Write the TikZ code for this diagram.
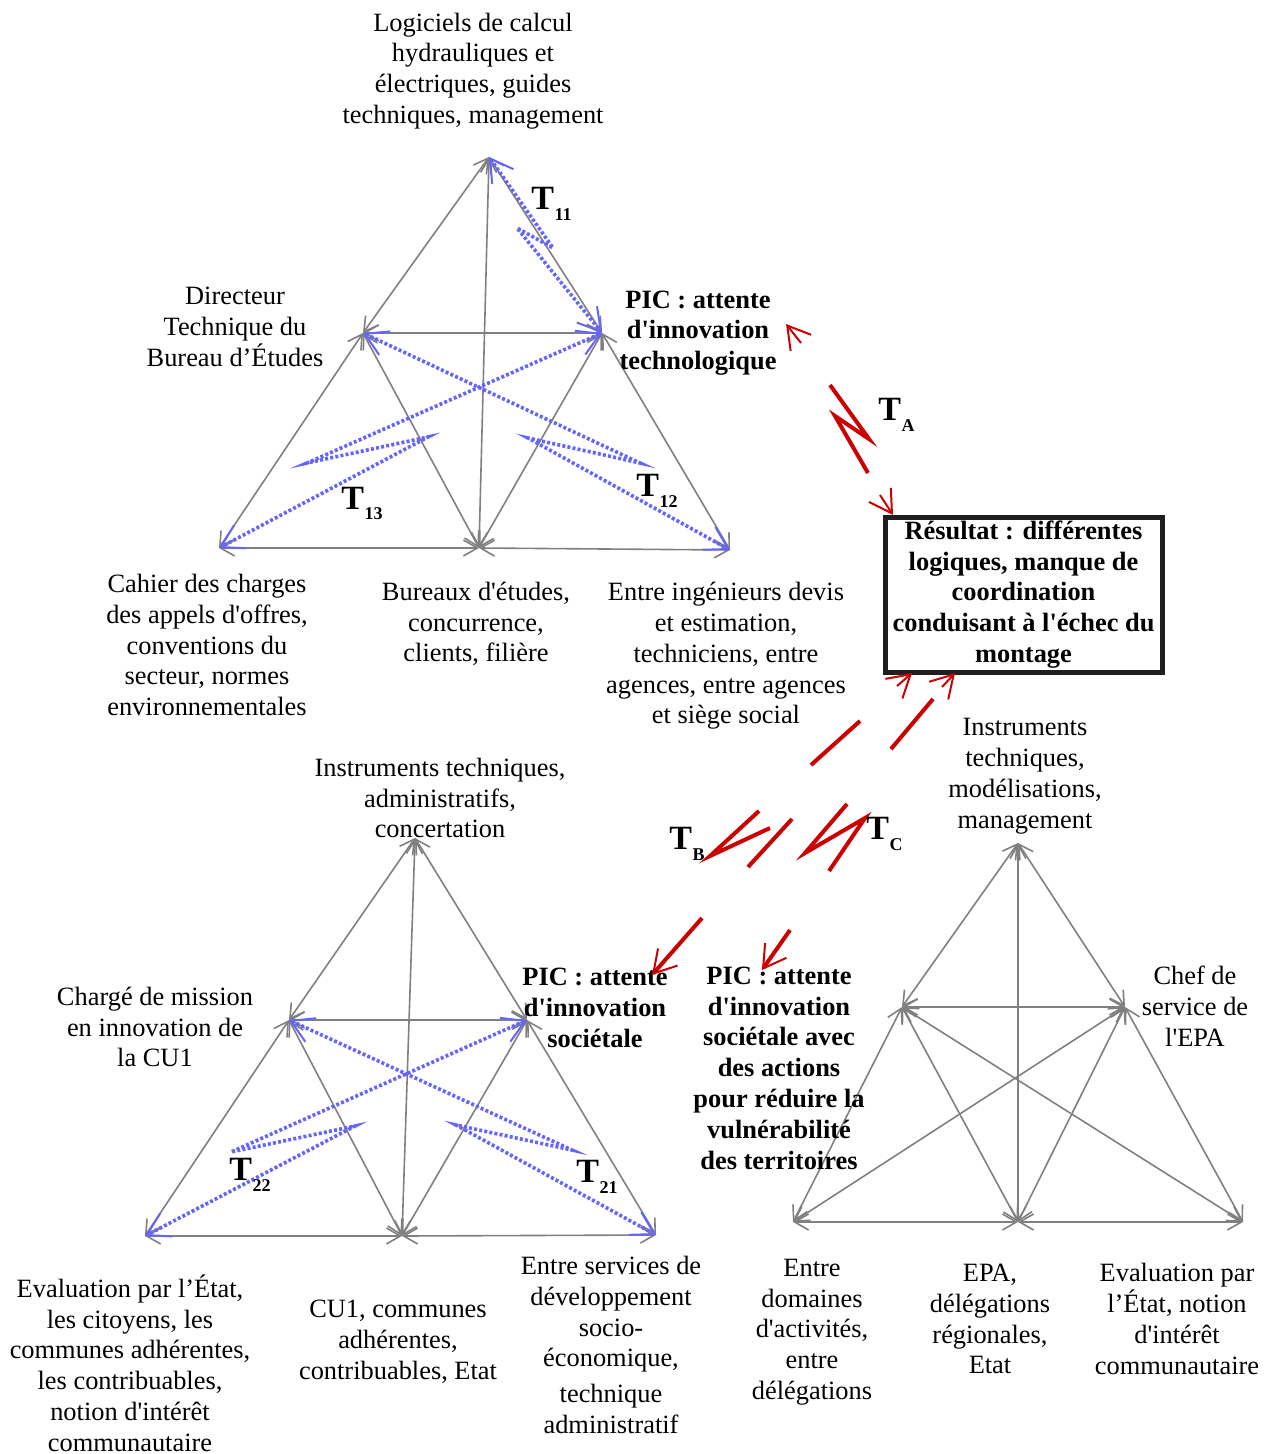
\documentclass[tikz,border=0pt]{standalone}
\usepackage{fontspec}
\newfontfamily\lserif{Liberation Serif}
\usetikzlibrary{arrows.meta}
\definecolor{linkgray}{RGB}{128,128,128}
\definecolor{transblue}{RGB}{100,100,255}
\definecolor{boltred}{RGB}{204,0,0}
\newcommand{\tsub}[1]{{\fontsize{17}{17}\selectfont T}\hspace{0.3pt}\raisebox{-5.5pt}{\fontsize{9}{9}\selectfont #1}}

\begin{document}
\begin{tikzpicture}[x=0.5pt, y=-0.5pt,
	lbl/.style={align=center, inner sep=0pt, font=\lserif\fontsize{13.2}{15.4}\selectfont},
	piclbl/.style={lbl, font=\lserif\bfseries\fontsize{13.2}{15.4}\selectfont},
	tname/.style={anchor=base west, inner sep=0pt, font=\lserif\bfseries},
	link/.style={draw=linkgray, line width=0.8pt,
		{Straight Barb[length=7pt,width=8pt]}-{Straight Barb[length=7pt,width=8pt]}},
	trans/.style={draw=transblue, line width=1.8pt, dash pattern=on 1.5pt off 1.1pt,
		{Straight Barb[length=11pt,width=13pt,line width=1pt]}-{Straight Barb[length=11pt,width=13pt,line width=1pt]}},
	bolt/.style={draw=boltred, line width=2pt},
	bolthead/.style={draw=boltred, line width=1pt, -{Straight Barb[length=11pt,width=13pt]}},
	result/.style={rectangle, draw=black!88, line width=2.5pt, minimum width=138.5pt,
		minimum height=77.5pt, inner sep=0pt, align=center,
		font=\lserif\bfseries\fontsize{13.2}{15.4}\selectfont}
	]
	\useasboundingbox (0,0) rectangle (1264,1454);
	
	% triangle 1
	\coordinate (A1) at (489,157);
	\coordinate (L1) at (363,333);
	\coordinate (R1) at (602,333);
	\coordinate (B1) at (219,548);
	\coordinate (M1) at (479,548);
	\coordinate (C1) at (730,550);
	% triangle 2
	\coordinate (A2) at (415,838);
	\coordinate (L2) at (289,1020);
	\coordinate (R2) at (527,1020);
	\coordinate (B2) at (145,1236);
	\coordinate (M2) at (402,1236);
	\coordinate (C2) at (656,1235);
	% triangle 3
	\coordinate (A3) at (1018,843);
	\coordinate (L3) at (902,1007);
	\coordinate (R3) at (1125,1007);
	\coordinate (B3) at (793,1222);
	\coordinate (M3) at (1018,1222);
	\coordinate (C3) at (1243,1222);
	
	\foreach \i in {1,2,3}{
		\foreach \a/\b in {A/L, A/R, A/M, L/R, L/B, L/M, R/M, R/C, B/M, M/C}
			\draw[link] (\a\i) -- (\b\i);
	}
	\draw[link] (L3) -- (C3);
	\draw[link] (R3) -- (B3);
	
	% transactions inside the triangles
	\draw[trans] (A1) -- (553,248) -- (517,228) -- (R1);
	\draw[trans] (L1) -- (640,463) -- (528,438) -- (C1);
	\draw[trans] (R1) -- (307,463) -- (428,437) -- (B1);
	\draw[trans] (L2) -- (572,1150) -- (456,1125) -- (C2);
	\draw[trans] (R2) -- (231,1152) -- (355,1126) -- (B2);
	
	\node[tname] (T11) at (531,210) {\tsub{11}};
	\node[tname] (T12) at (636,496) {\tsub{12}};
	\node[tname] (T13) at (341,509) {\tsub{13}};
	\node[tname] (T22) at (229,1180) {\tsub{22}};
	\node[tname] (T21) at (576,1182) {\tsub{21}};
	
	% labels, triangle 1
	\node[lbl] (Outil1) at (473,71) {Logiciels de calcul\\hydrauliques et\\électriques, guides\\techniques, management};
	\node[lbl] (Sujet1) at (235,327) {Directeur\\Technique du\\Bureau d’Études};
	\node[piclbl] (Pic1) at (698,333) {PIC : attente\\d'innovation\\technologique};
	\node[lbl] (Regles1) at (207,645) {Cahier des charges\\des appels d'offres,\\conventions du\\secteur, normes\\environnementales};
	\node[lbl] (Comm1) at (476,624) {Bureaux d'études,\\concurrence,\\clients, filière};
	\node[lbl] (Div1) at (726,656) {Entre ingénieurs devis\\et estimation,\\techniciens, entre\\agences, entre agences\\et siège social};
	
	% labels, triangle 2
	\node[lbl] (Outil2) at (440,798) {Instruments techniques,\\administratifs,\\concertation};
	\node[lbl] (Sujet2) at (155,1027) {Chargé de mission\\en innovation de\\la CU1};
	\node[piclbl] (Pic2) at (595,1008) {PIC : attente\\d'innovation\\sociétale};
	\node[lbl] (Regles2) at (130,1363) {Evaluation par l’État,\\les citoyens, les\\communes adhérentes,\\les contribuables,\\notion d'intérêt\\communautaire};
	\node[lbl] (Comm2) at (398,1342) {CU1, communes\\adhérentes,\\contribuables, Etat};
	\node[lbl] (Div2) at (611,1345) {Entre services de\\développement\\socio-\\économique,\\[2.5pt]technique\\administratif};
	
	% labels, triangle 3
	\node[lbl] (Outil3) at (1025,776) {Instruments\\techniques,\\modélisations,\\management};
	\node[lbl] (Sujet3) at (1195,1006) {Chef de\\service de\\l'EPA};
	\node[piclbl] (Pic3) at (779,1068) {PIC : attente\\d'innovation\\sociétale avec\\des actions\\pour réduire la\\vulnérabilité\\des territoires};
	\node[lbl] (Div3) at (812,1332) {Entre\\domaines\\d'activités,\\entre\\délégations};
	\node[lbl] (Comm3) at (990,1319) {EPA,\\délégations\\régionales,\\Etat};
	\node[lbl] (Regles3) at (1177,1319) {Evaluation par\\l’État, notion\\d'intérêt\\communautaire};
	
	\node[result] (Res) at (1023.5,594.5) {Résultat : différentes\\logiques, manque de\\coordination\\conduisant à l'échec du\\montage};
	
	% tensions between the systems
	\draw[bolthead] (801,343) -- (786,324);
	\draw[bolt] (830,385) -- (869,439) -- (835,416) -- (868,473);
	\draw[bolthead] (880,495) -- (893,515);
	\node[tname] (TA) at (878,421) {\tsub{A}};
	
	\draw[bolthead] (897,686) -- (912,673);
	\draw[bolt] (860,721) -- (811,765);
	\draw[bolt] (759,811) -- (710,856) -- (770,828);
	\draw[bolt] (792,819) -- (748,867);
	\draw[bolt, -{Straight Barb[length=11pt,width=13pt,line width=1pt]}] (702,918) -- (652,975);
	\node[tname] (TB) at (669,849) {\tsub{B}};
	
	\draw[bolthead] (942,687) -- (955,673);
	\draw[bolt] (933,699) -- (891,749);
	\draw[bolt] (847,804) -- (805,853) -- (865,818) -- (829,871);
	\draw[bolt, -{Straight Barb[length=11pt,width=13pt,line width=1pt]}] (790,930) -- (762,970);
	\node[tname] (TC) at (866,839) {\tsub{C}};
\end{tikzpicture}
\end{document}
